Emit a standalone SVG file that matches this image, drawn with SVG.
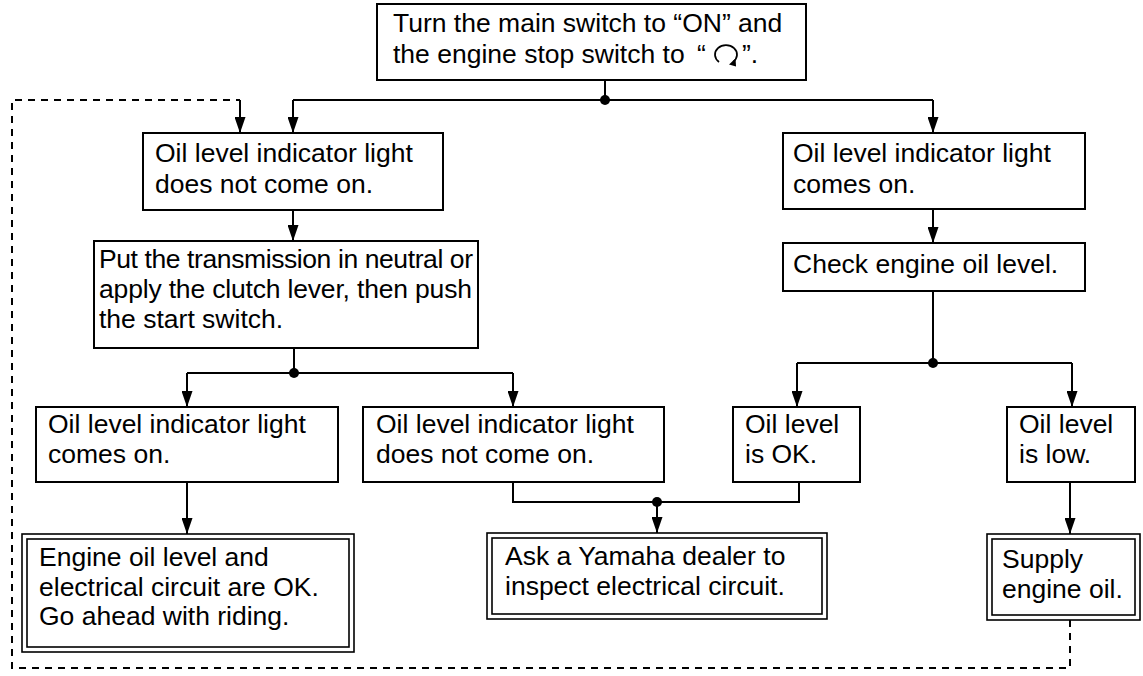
<svg xmlns="http://www.w3.org/2000/svg" width="1143" height="676" viewBox="0 0 1143 676">
<style>
.box{fill:#fff;stroke:#000;stroke-width:2}
.dbl{fill:none;stroke:#000;stroke-width:1.6}
.t{font-family:"Liberation Sans",Arial,sans-serif;font-size:26.5px;fill:#000}
.ln{fill:none;stroke:#000;stroke-width:2}
.dash{fill:none;stroke:#000;stroke-width:2;stroke-dasharray:7 6}
.dot{fill:#000}
</style>
<defs>
<marker id="av" markerUnits="userSpaceOnUse" markerWidth="16" markerHeight="11" refX="16" refY="5.5" orient="auto" viewBox="0 0 16 11">
<path d="M0,0 L16,5.5 L0,11 Z" fill="#000"/>
</marker>
</defs>
<rect width="1143" height="676" fill="#fff"/>
<g id="connectors">
<path class="ln" d="M605,80 V100"/>
<path class="ln" d="M293,100 H933"/>
<path class="ln" d="M293,100 V133" marker-end="url(#av)"/>
<path class="ln" d="M933,100 V133" marker-end="url(#av)"/>
<circle class="dot" cx="605" cy="100" r="5"/>
<path class="ln" d="M293,210 V241" marker-end="url(#av)"/>
<path class="ln" d="M933,209 V243" marker-end="url(#av)"/>
<path class="ln" d="M294,348 V373"/>
<path class="ln" d="M187,373 H513"/>
<path class="ln" d="M187,373 V407" marker-end="url(#av)"/>
<path class="ln" d="M513,373 V407" marker-end="url(#av)"/>
<circle class="dot" cx="294" cy="373" r="5"/>
<path class="ln" d="M933,291 V363"/>
<path class="ln" d="M797,363 H1072"/>
<path class="ln" d="M797,363 V407" marker-end="url(#av)"/>
<path class="ln" d="M1072,363 V407" marker-end="url(#av)"/>
<circle class="dot" cx="933" cy="363" r="5"/>
<path class="ln" d="M187,482 V534" marker-end="url(#av)"/>
<path class="ln" d="M513,482 V502 H799 V482"/>
<path class="ln" d="M657,502 V533" marker-end="url(#av)"/>
<circle class="dot" cx="657" cy="502" r="5"/>
<path class="ln" d="M1070,482 V534" marker-end="url(#av)"/>
<path class="dash" d="M1070,620 V668 H12 V100 H240"/>
<path class="ln" d="M240,100 V133" marker-end="url(#av)"/>
</g>
<g id="start">
<rect class="box" x="377" y="4" width="429" height="76"/>
<text class="t" x="393" y="32">Turn the main switch to “ON” and</text>
<text class="t" x="393" y="63">the engine stop switch to<tspan x="697">“</tspan><tspan x="742">”.</tspan></text>
<path d="M719,62 A11,9.5 0 1 1 733,62" fill="none" stroke="#000" stroke-width="1.8"/>
<path d="M729,64.5 L735.5,58.5 L736,66.5 Z" fill="#000"/>
</g>
<g id="left-no-light">
<rect class="box" x="143" y="133" width="300" height="77"/>
<text class="t" x="155" y="162">Oil level indicator light</text>
<text class="t" x="155" y="193">does not come on.</text>
</g>
<g id="right-light">
<rect class="box" x="783" y="133" width="302" height="76"/>
<text class="t" x="793" y="162">Oil level indicator light</text>
<text class="t" x="793" y="193">comes on.</text>
</g>
<g id="push-start">
<rect class="box" x="94" y="241" width="384" height="107"/>
<text class="t" x="99" y="268" textLength="374" lengthAdjust="spacing">Put the transmission in neutral or</text>
<text class="t" x="99" y="298" textLength="373" lengthAdjust="spacing">apply the clutch lever, then push</text>
<text class="t" x="99" y="328">the start switch.</text>
</g>
<g id="check-oil">
<rect class="box" x="783" y="243" width="302" height="48"/>
<text class="t" x="793" y="273">Check engine oil level.</text>
</g>
<g id="comes-on">
<rect class="box" x="36" y="407" width="302" height="75"/>
<text class="t" x="48" y="433">Oil level indicator light</text>
<text class="t" x="48" y="463">comes on.</text>
</g>
<g id="not-come-on">
<rect class="box" x="363" y="407" width="301" height="75"/>
<text class="t" x="376" y="433">Oil level indicator light</text>
<text class="t" x="376" y="463">does not come on.</text>
</g>
<g id="oil-ok">
<rect class="box" x="733" y="407" width="127" height="75"/>
<text class="t" x="745" y="433">Oil level</text>
<text class="t" x="745" y="463">is OK.</text>
</g>
<g id="oil-low">
<rect class="box" x="1007" y="407" width="128" height="75"/>
<text class="t" x="1019" y="433">Oil level</text>
<text class="t" x="1019" y="463">is low.</text>
</g>
<g id="go-ahead">
<rect class="dbl" x="22" y="534" width="332" height="118" fill="#fff"/>
<rect class="dbl" x="27" y="539" width="322" height="108"/>
<text class="t" x="39" y="566">Engine oil level and</text>
<text class="t" x="39" y="596">electrical circuit are OK.</text>
<text class="t" x="39" y="625">Go ahead with riding.</text>
</g>
<g id="ask-dealer">
<rect class="dbl" x="487" y="533" width="340" height="86" fill="#fff"/>
<rect class="dbl" x="492" y="538" width="330" height="76"/>
<text class="t" x="505" y="565">Ask a Yamaha dealer to</text>
<text class="t" x="505" y="595">inspect electrical circuit.</text>
</g>
<g id="supply-oil">
<rect class="dbl" x="987" y="534" width="153" height="86" fill="#fff"/>
<rect class="dbl" x="992" y="539" width="143" height="76"/>
<text class="t" x="1002" y="568">Supply</text>
<text class="t" x="1002" y="598">engine oil.</text>
</g>
</svg>
